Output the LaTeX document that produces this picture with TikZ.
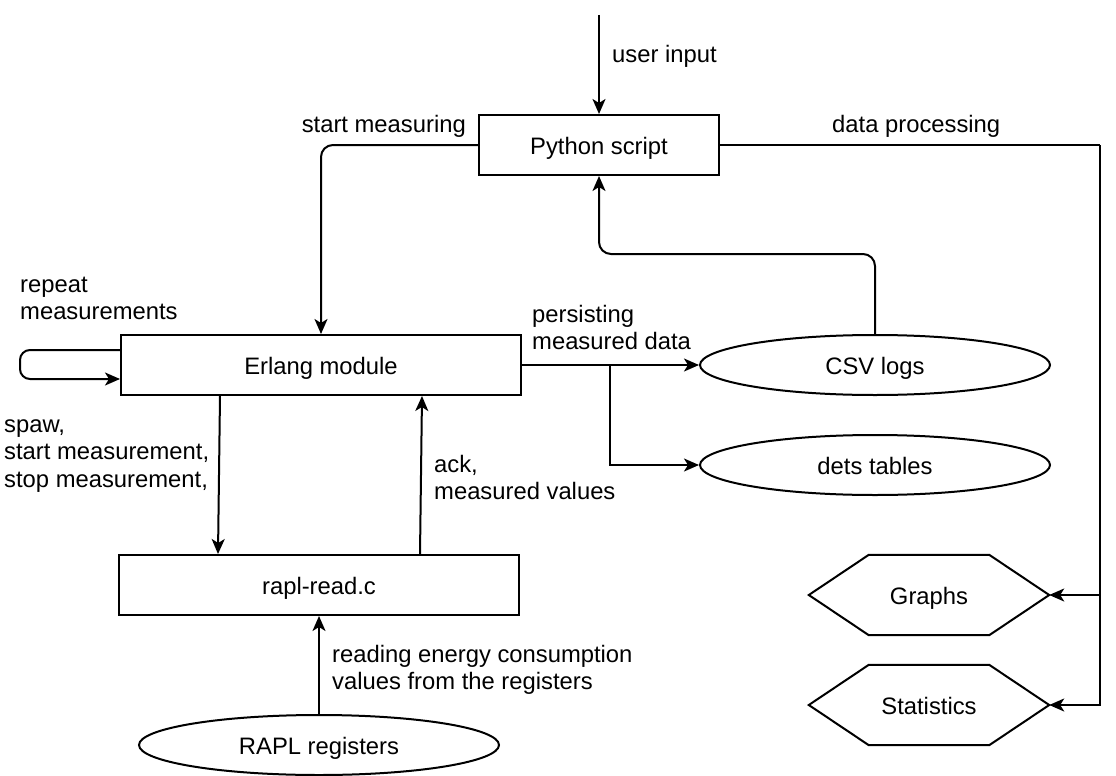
\documentclass[tikz,border=0pt]{standalone}
\usepackage{fontspec}
\setmainfont{Liberation Sans}
\usetikzlibrary{shapes.geometric,arrows.meta,calc}
\newcommand\fstr{\rule{0pt}{20pt}}
\tikzset{
  one/.style={text height=24pt, text depth=5pt},
  box/.style={draw, line width=2pt, rectangle, minimum width=#1, minimum height=60pt, inner sep=0pt, one},
  ell/.style={draw, line width=2pt, ellipse, minimum width=#1, minimum height=60pt, inner sep=0pt, one},
  hexa/.style={minimum width=240pt, minimum height=80pt, inner sep=0pt, one},
  conn/.style={line width=2pt},
  arr/.style={line width=2pt, -{Stealth[length=15pt,width=13pt,inset=4pt]}},
  lbl/.style={inner sep=0pt, align=left},
}
\begin{document}
\begin{tikzpicture}[x=1pt,y=-1pt, font=\fontsize{23.8}{27.5}\selectfont]
\useasboundingbox (0,0) rectangle (1116,776);
% nodes
\node[box=240pt] (py) at (599,145) {Python script};
\node[box=400pt] (erl) at (321,365) {Erlang module};
\node[box=400pt] (rapl) at (319,585) {rapl-read.c};
\node[ell=350pt] (csv) at (875,365) {CSV logs};
\node[ell=350pt] (dets) at (875,465) {dets tables};
\node[ell=360pt] (regs) at (319,745) {RAPL registers};
\node[hexa] (graphs) at (929,595) {Graphs};
\node[hexa] (stats) at (929,705) {Statistics};
\foreach \h in {graphs,stats}{
  \draw[line width=2pt, line join=miter] (\h.west) -- ([xshift=60pt]\h.north west) -- ([xshift=-60pt]\h.north east) -- (\h.east) -- ([xshift=-60pt]\h.south east) -- ([xshift=60pt]\h.south west) -- cycle;
}
% coordinates
\coordinate (top) at (599,15);
\coordinate (br) at (610,365);
\coordinate (dpc) at (1100,145);
% connectors
\draw[arr] (top) -- (py.north);
\draw[arr, rounded corners=12pt] (py.west) -| (erl.north);
\draw[arr, rounded corners=12pt] (csv.north) -- ++(0,-80) -| (py.south);
\draw[arr] (erl.east) -- (csv.west);
\draw[arr] (br) |- (dets.west);
\draw[arr, rounded corners=10pt] ([yshift=15pt]erl.west) -- ++(-100,0) |- ([yshift=-14pt]erl.west);
\draw[arr] ([xshift=100pt]erl.south west) -- ([xshift=100pt]rapl.north west);
\draw[arr] ([xshift=-100pt]rapl.north east) -- ([xshift=-100pt]erl.south east);
\draw[arr] (regs.north) -- (rapl.south);
\draw[conn] (py.east) -- (dpc);
\draw[arr] (dpc) |- (stats.east);
\draw[arr] (dpc) |- (graphs.east);
% labels
\node[lbl, anchor=north west] (l1) at (612,42) {\fstr user input};
\node[lbl, anchor=north east] (l2) at (466,112) {\fstr start measuring};
\node[lbl, anchor=north west] (l3) at (832,112) {\fstr data processing};
\node[lbl, anchor=north west] (l4) at (20,272) {\fstr repeat\\measurements};
\node[lbl, anchor=north west] (l5) at (532,302) {\fstr persisting\\measured data};
\node[lbl, anchor=north west] (l6) at (4,412) {\fstr spaw,\\start measurement,\\stop measurement,};
\node[lbl, anchor=north west] (l7) at (434,452) {\fstr ack,\\measured values};
\node[lbl, anchor=north west] (l8) at (332,642) {\fstr reading energy consumption\\values from the registers};
\end{tikzpicture}
\end{document}
